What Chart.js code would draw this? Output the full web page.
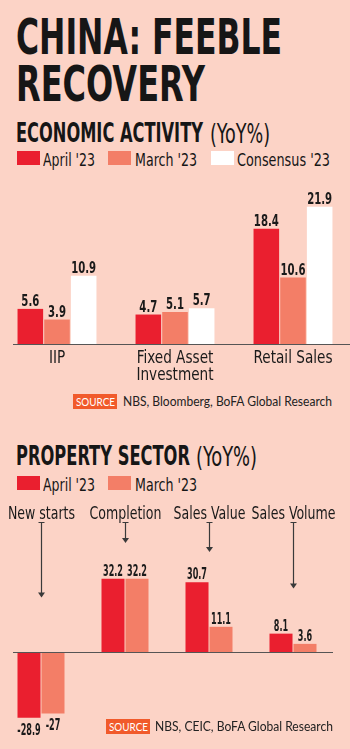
<!DOCTYPE html>
<html>
<head>
<meta charset="utf-8">
<script src="https://cdn.jsdelivr.net/npm/chart.js@4.4.0/dist/chart.umd.min.js"></script>
<style>
body { margin: 0; width: 350px; height: 749px; overflow: hidden; position: relative; background: #fcd3c6; }
.t { position: absolute; white-space: nowrap; line-height: 1; display: inline-block; transform-origin: 0 0; color: #161616; }
.cond { font-family: 'Liberation Sans Narrow', 'DejaVu Sans Condensed', Roboto, sans-serif; }
.plain { font-family: Lato, 'Open Sans', sans-serif; }
.sw { position: absolute; width: 23px; height: 14px; }
.srcbox { position: absolute; background: #f15a2b; }
canvas { position: absolute; }
</style>
</head>
<body>
<span class="t cond" id="title1" style="font-size:49px;font-weight:700">CHINA: FEEBLE</span>
<span class="t cond" id="title2" style="font-size:49px;font-weight:700">RECOVERY</span>
<span class="t cond" id="head1" style="font-size:26px;font-weight:700">ECONOMIC ACTIVITY</span>
<span class="t cond" id="head1b" style="font-size:26px;font-weight:400">(YoY%)</span>
<span class="t cond" id="head2" style="font-size:26px;font-weight:700">PROPERTY SECTOR</span>
<span class="t cond" id="head2b" style="font-size:26px;font-weight:400">(YoY%)</span>
<div id="legend1"></div>
<div id="legend2"></div>
<canvas id="chart_eco" width="354" height="204" style="left:-2px;top:186px"></canvas>
<canvas id="chart_prop" width="336" height="241" style="left:-1px;top:502px"></canvas>
<div class="srcbox" style="left:73px;top:394px;width:44px;height:15px"></div>
<span class="t plain" id="src1tag" style="font-size:11px;color:#fff">SOURCE</span>
<span class="t plain" id="src1" style="font-size:12.5px;color:#222">NBS, Bloomberg, BoFA Global Research</span>
<div class="srcbox" style="left:106px;top:719px;width:44px;height:15px"></div>
<span class="t plain" id="src2tag" style="font-size:11px;color:#fff">SOURCE</span>
<span class="t plain" id="src2" style="font-size:12.5px;color:#222">NBS, CEIC, BoFA Global Research</span>
<script>
// economic activity (YoY%)
var ecoCategories = [['IIP'], ['Fixed Asset', 'Investment'], ['Retail Sales']];
var ecoSeries = ["April '23", "March '23", "Consensus '23"];
var ecoApril = [5.6, 4.7, 18.4];
var ecoMarch = [3.9, 5.1, 10.6];
var ecoConsensus = [10.9, 5.7, 21.9];

// property sector (YoY%)
var propCategories = ['New starts', 'Completion', 'Sales Value', 'Sales Volume'];
var propSeries = ["April '23", "March '23"];
var propApril = [-28.9, 32.2, 30.7, 8.1];
var propMarch = [-27, 32.2, 11.1, 3.6];

var RED = '#ea1f2f';
var SALMON = '#f37e67';
var WHITE = '#ffffff';
var INK = '#1a1a1a';
var COND = "'Liberation Sans Narrow', 'DejaVu Sans Condensed', Roboto, sans-serif";

var mctx = document.createElement('canvas').getContext('2d');

// put cap top of the text at capTop, squeeze to width w
var placeText = function (el, x, capTop, w) {
    var cs = getComputedStyle(el);
    var size = parseFloat(cs.fontSize);
    mctx.font = cs.fontWeight + ' ' + cs.fontSize + ' ' + cs.fontFamily;
    var m = mctx.measureText('H');
    var asc = m.fontBoundingBoxAscent, desc = m.fontBoundingBoxDescent;
    var base = (size - asc - desc) / 2 + asc;
    el.style.left = x + 'px';
    el.style.top = (capTop - (base - m.actualBoundingBoxAscent)) + 'px';
    if (w) {
        var r = el.getBoundingClientRect().width;
        el.style.transform = 'scaleX(' + (w / r) + ')';
    }
}

var makeLegend = function (holderId, names, colors, swX, txtX, txtW, y) {
    var holder = document.getElementById(holderId);
    for (let i = 0; i < names.length; i++) {
        let sw = document.createElement('div');
        sw.className = 'sw';
        sw.style.left = swX[i] + 'px';
        sw.style.top = y + 'px';
        sw.style.background = colors[i];
        holder.appendChild(sw);
        let tx = document.createElement('span');
        tx.className = 't cond';
        tx.style.fontSize = '17px';
        tx.innerText = names[i];
        holder.appendChild(tx);
        placeText(tx, txtX[i], y + 2, txtW[i]);
    }
}

// squeezed canvas text; sx from a reference string and its target width
var squeeze = function (ctx, font, ref, targetW) {
    ctx.font = font;
    return targetW / ctx.measureText(ref).width;
}
var drawText = function (ctx, text, x, y, font, sx, align) {
    ctx.save();
    ctx.font = font;
    ctx.textAlign = align || 'center';
    ctx.textBaseline = 'alphabetic';
    ctx.fillStyle = INK;
    ctx.translate(x, y);
    ctx.scale(sx, 1);
    ctx.fillText(text, 0, 0);
    ctx.restore();
}

var ecoLabels = {
    id: 'ecoLabels',
    afterDatasetsDraw: function (chart) {
        var ctx = chart.ctx;
        var y0 = chart.scales.y.getPixelForValue(0);
        ctx.save();
        ctx.strokeStyle = '#555';
        ctx.lineWidth = 1;
        ctx.beginPath();
        ctx.moveTo(15, Math.round(y0) + 0.5);
        ctx.lineTo(354, Math.round(y0) + 0.5);
        ctx.stroke();
        ctx.restore();

        var vFont = 'bold 16px ' + COND;
        var vsx = squeeze(ctx, vFont, '18.4', 25);
        chart.data.datasets.forEach(function (ds, di) {
            chart.getDatasetMeta(di).data.forEach(function (bar, i) {
                drawText(ctx, String(ds.data[i]), bar.x, bar.y - 3, vFont, vsx);
            });
        });

        var cFont = '17px ' + COND;
        var csx = squeeze(ctx, cFont, 'Retail Sales', 79);
        for (let i = 0; i < ecoCategories.length; i++) {
            let x = chart.scales.x.getPixelForValue(i);
            for (let l = 0; l < ecoCategories[i].length; l++) {
                drawText(ctx, ecoCategories[i][l], x, y0 + 19 + l * 17, cFont, csx);
            }
        }
    }
};

var propLabels = {
    id: 'propLabels',
    afterDatasetsDraw: function (chart) {
        var ctx = chart.ctx;
        var ys = chart.scales.y;
        var y0 = ys.getPixelForValue(0);
        ctx.save();
        ctx.strokeStyle = '#555';
        ctx.lineWidth = 1;
        ctx.beginPath();
        ctx.moveTo(14, Math.round(y0) + 0.5);
        ctx.lineTo(334, Math.round(y0) + 0.5);
        ctx.stroke();
        ctx.restore();

        var vFont = 'bold 15px ' + COND;
        var vsx = squeeze(ctx, vFont, '30.7', 20);
        chart.data.datasets.forEach(function (ds, di) {
            chart.getDatasetMeta(di).data.forEach(function (bar, i) {
                let v = ds.data[i];
                if (v >= 0)
                    drawText(ctx, String(v), bar.x, bar.y - 3, vFont, vsx);
                else
                    drawText(ctx, String(v), bar.x, bar.y + 17, vFont, vsx);
            });
        });

        var aFont = '17px ' + COND;
        var asx = squeeze(ctx, aFont, 'Sales Volume', 84);
        var tips = chart.options.plugins.propLabels.arrowTips;
        for (let i = 0; i < propCategories.length; i++) {
            let x = Math.round(chart.scales.x.getPixelForValue(i)) + 0.5;
            drawText(ctx, propCategories[i], x, 17, aFont, asx);
            let tipY = ys.getPixelForValue(tips[i]);
            ctx.save();
            ctx.strokeStyle = '#3a3a3a';
            ctx.fillStyle = '#3a3a3a';
            ctx.lineWidth = 1.2;
            ctx.beginPath();
            ctx.moveTo(x - 3, 20.5);
            ctx.lineTo(x + 3, 20.5);
            ctx.moveTo(x, 20);
            ctx.lineTo(x, tipY - 4);
            ctx.stroke();
            ctx.beginPath();
            ctx.moveTo(x - 3.5, tipY - 5);
            ctx.lineTo(x + 3.5, tipY - 5);
            ctx.lineTo(x, tipY);
            ctx.closePath();
            ctx.fill();
            ctx.restore();
        }
    }
};

var baseOptions = function (ymin, ymax, bottomPad, catPct) {
    return {
        responsive: false,
        animation: false,
        layout: { padding: { top: 0, left: 0, right: 0, bottom: bottomPad } },
        datasets: { bar: { categoryPercentage: catPct, barPercentage: 0.96, borderWidth: 0 } },
        plugins: { legend: { display: false }, tooltip: { enabled: false } },
        scales: {
            x: { display: false },
            y: { display: false, min: ymin, max: ymax }
        }
    };
}

var drawAll = function () {
    placeText(document.getElementById('title1'), 16, 18, 266);
    placeText(document.getElementById('title2'), 16, 65, 189);
    placeText(document.getElementById('head1'), 16, 122, 187);
    placeText(document.getElementById('head1b'), 210, 123, 60);
    placeText(document.getElementById('head2'), 16, 445, 174);
    placeText(document.getElementById('head2b'), 196, 446, 61);
    placeText(document.getElementById('src1tag'), 76, 398, 39);
    placeText(document.getElementById('src1'), 123, 397, 209);
    placeText(document.getElementById('src2tag'), 109, 723, 39);
    placeText(document.getElementById('src2'), 155, 722, 178);

    makeLegend('legend1', ecoSeries, [RED, SALMON, WHITE], [17, 108, 211], [43, 135, 237], [52, 62, 93], 151);
    makeLegend('legend2', propSeries, [RED, SALMON], [17, 108], [43, 135], [52, 62], 476);

    new Chart('chart_eco', {
        type: 'bar',
        data: {
            labels: ecoCategories,
            datasets: [
                { label: ecoSeries[0], data: ecoApril, backgroundColor: RED },
                { label: ecoSeries[1], data: ecoMarch, backgroundColor: SALMON },
                { label: ecoSeries[2], data: ecoConsensus, backgroundColor: WHITE }
            ]
        },
        options: baseOptions(0, 25.2, 46, 0.678),
        plugins: [ecoLabels]
    });

    var propOpts = baseOptions(-40, 66, 0, 0.571);
    propOpts.plugins.propLabels = { arrowTips: [24, 48, 44, 28] };
    new Chart('chart_prop', {
        type: 'bar',
        data: {
            labels: propCategories,
            datasets: [
                { label: propSeries[0], data: propApril, backgroundColor: RED },
                { label: propSeries[1], data: propMarch, backgroundColor: SALMON }
            ]
        },
        options: propOpts,
        plugins: [propLabels]
    });
}

drawAll();
</script>
</body>
</html>
